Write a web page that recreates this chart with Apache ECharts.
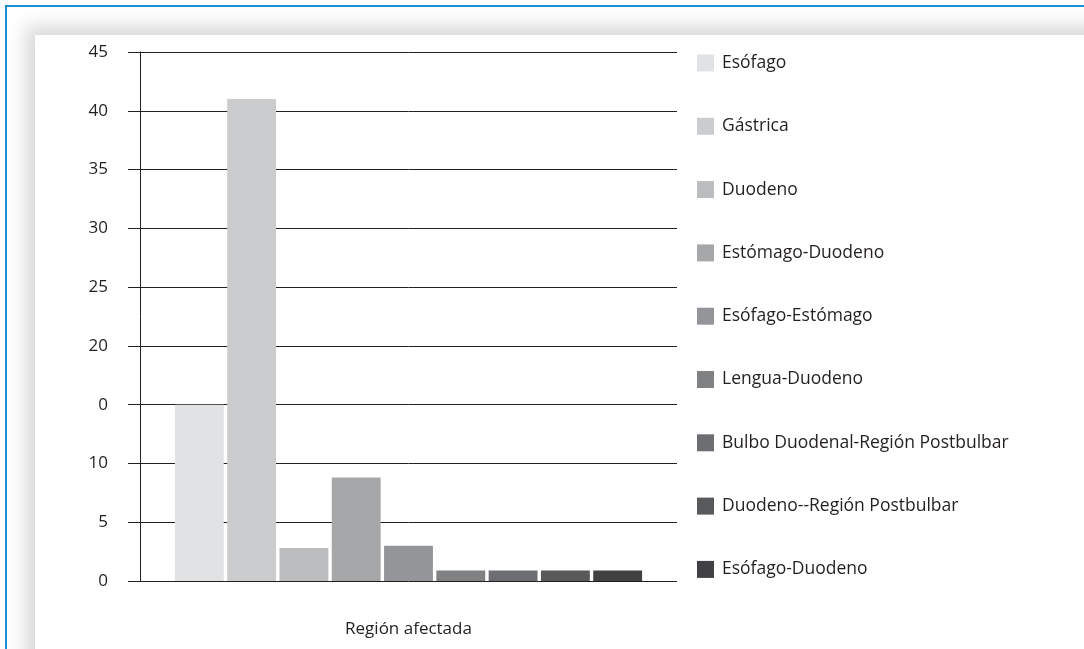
<!DOCTYPE html>
<html><head><meta charset="utf-8">
<script src="https://cdn.jsdelivr.net/npm/echarts@6/dist/echarts.min.js"></script>
<style>
html,body{margin:0;padding:0;width:1084px;height:649px;overflow:hidden;background:#fff;}
#frame{position:absolute;left:5px;top:5px;width:1100px;height:700px;border-left:2px solid #1b8fd6;border-top:2px solid #1b8fd6;background:#fff;overflow:hidden;}
#inner{position:absolute;left:28px;top:28px;width:1200px;height:800px;background:#fff;box-shadow:0 0 18px 9px rgba(0,0,0,0.16);}
#chart{position:absolute;left:0;top:0;width:1084px;height:649px;}
</style></head>
<body>
<div id="frame"><div id="inner"></div></div>
<div id="chart"></div>
<script>
const categories = ['Región afectada'];
const seriesNames = ['Esófago','Gástrica','Duodeno','Estómago-Duodeno','Esófago-Estómago','Lengua-Duodeno','Bulbo Duodenal-Región Postbulbar','Duodeno--Región Postbulbar','Esófago-Duodeno'];
const seriesValues = [15, 41, 2.8, 8.8, 3.0, 0.9, 0.9, 0.9, 0.9];
const seriesColors = ['#e1e2e3','#cbcccd','#bbbcbe','#a6a7a9','#949598','#808183','#6d6e71','#58595b','#414042'];
const tickLabels = ['0','5','10','0','20','25','30','35','40','45'];

const chart = echarts.init(document.getElementById('chart'), null, {renderer:'canvas'});
const font = 'Open Sans';
chart.setOption({
  backgroundColor: 'transparent',
  animation: false,
  grid: {left:140, right:407, top:52, bottom:68, containLabel:false},
  legend: {
    orient:'vertical', left:697, top:54, padding:0,
    itemWidth:17, itemHeight:17, itemGap:45.3,
    icon:'rect',
    data: seriesNames,
    textStyle:{fontFamily:font, fontSize:17.5, lineHeight:17, color:'#231f20', padding:[0,0,0,3]}
  },
  xAxis: {
    type:'category', data: categories,
    axisLine:{show:false}, axisTick:{show:false},
    axisLabel:{margin:40, fontFamily:font, fontSize:17, color:'#231f20'}
  },
  yAxis: {
    type:'value', min:0, max:45, interval:5,
    axisLine:{show:true, lineStyle:{color:'#231f20', width:1}},
    axisTick:{show:true, inside:false, length:12, lineStyle:{color:'#231f20', width:1}},
    splitLine:{show:true, lineStyle:{color:'#231f20', width:1}},
    axisLabel:{margin:32, fontFamily:font, fontSize:17, color:'#231f20',
      formatter: v => tickLabels[Math.round(v/5)]}
  },
  series: seriesNames.map((n,i)=>({
    name:n, type:'bar', data:[seriesValues[i]],
    barGap:'7%', barCategoryGap:'13%',
    itemStyle:{color:seriesColors[i]}
  }))
});
</script>
</body></html>
